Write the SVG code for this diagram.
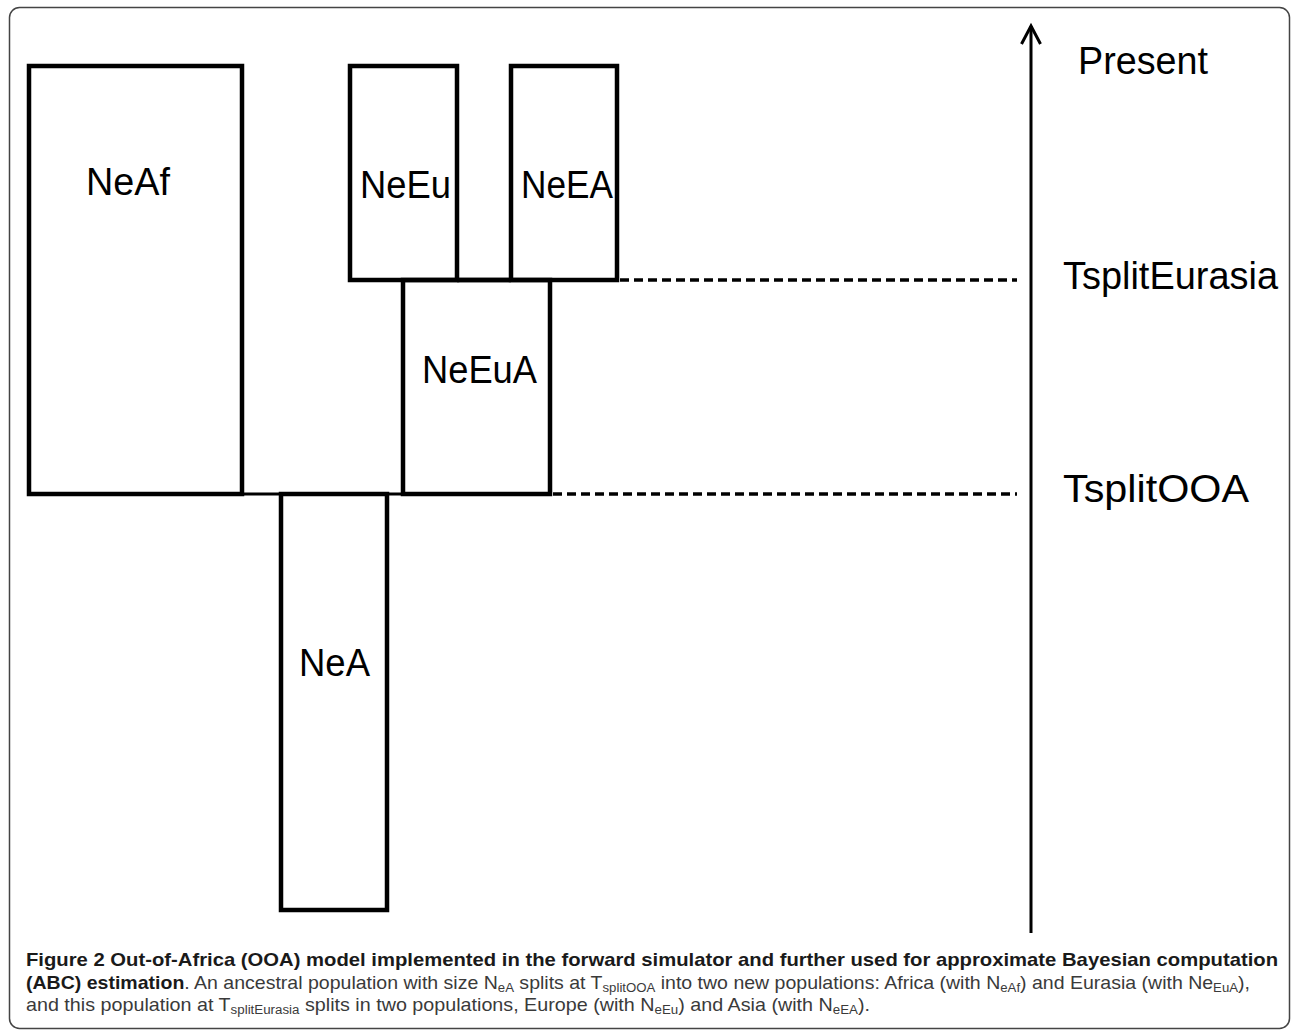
<svg xmlns="http://www.w3.org/2000/svg" width="1293" height="1032" viewBox="0 0 1293 1032">
<style>
.box{fill:none;stroke:#000;stroke-width:4.5;stroke-linejoin:miter}
.lbl{font-family:"Liberation Sans",Arial,sans-serif;font-size:38px;fill:#000}
.dash{fill:none;stroke:#000;stroke-width:3.5;stroke-dasharray:9 5}
.ax{fill:none;stroke:#000;stroke-width:3}
.cap{font-family:"Liberation Sans",Arial,sans-serif;font-size:18.5px;fill:#3a3a3a}
.b{font-weight:bold;fill:#1a1a1a}
.s{font-size:12.5px}
</style>
<rect x="9.5" y="7.5" width="1280" height="1021" rx="10" fill="#fff" stroke="#444" stroke-width="1.5"/>
<g id="connectors">
<line x1="242" y1="494" x2="403" y2="494" stroke="#000" stroke-width="3"/>
<line x1="457" y1="280" x2="511" y2="280" stroke="#000" stroke-width="4.5"/>
<line class="dash" x1="620" y1="280" x2="1017" y2="280"/>
<line class="dash" x1="553" y1="494" x2="1017" y2="494"/>
<line class="ax" x1="1031" y1="26" x2="1031" y2="933"/>
<polyline class="ax" points="1021.5,44 1031,26 1040.5,44"/>
</g>
<g id="NeAf"><rect class="box" x="29" y="66" width="213" height="428"/><text class="lbl" x="86" y="195" textLength="84" lengthAdjust="spacingAndGlyphs">NeAf</text></g>
<g id="NeEu"><rect class="box" x="350" y="66" width="107" height="214"/><text class="lbl" x="360" y="198" textLength="91" lengthAdjust="spacingAndGlyphs">NeEu</text></g>
<g id="NeEA"><rect class="box" x="511" y="66" width="106" height="214"/><text class="lbl" x="521" y="198" textLength="92" lengthAdjust="spacingAndGlyphs">NeEA</text></g>
<g id="NeEuA"><rect class="box" x="403" y="280" width="147" height="214"/><text class="lbl" x="422" y="383" textLength="115" lengthAdjust="spacingAndGlyphs">NeEuA</text></g>
<g id="NeA"><rect class="box" x="281" y="494" width="106" height="416"/><text class="lbl" x="299" y="676" textLength="71" lengthAdjust="spacingAndGlyphs">NeA</text></g>
<g id="Present"><text class="lbl" x="1078" y="74" textLength="130" lengthAdjust="spacingAndGlyphs">Present</text></g>
<g id="TsplitEurasia"><text class="lbl" x="1063" y="289" textLength="215" lengthAdjust="spacingAndGlyphs">TsplitEurasia</text></g>
<g id="TsplitOOA"><text class="lbl" x="1063" y="502" textLength="186" lengthAdjust="spacingAndGlyphs">TsplitOOA</text></g>
<g id="caption">
<text class="cap b" x="26" y="966" textLength="1252" lengthAdjust="spacingAndGlyphs">Figure 2 Out-of-Africa (OOA) model implemented in the forward simulator and further used for approximate Bayesian computation</text>
<text class="cap" x="26" y="989" textLength="1224" lengthAdjust="spacingAndGlyphs"><tspan class="b">(ABC) estimation</tspan>. An ancestral population with size N<tspan class="s" dy="3">eA</tspan><tspan dy="-3"> splits at T</tspan><tspan class="s" dy="3">splitOOA</tspan><tspan dy="-3"> into two new populations: Africa (with N</tspan><tspan class="s" dy="3">eAf</tspan><tspan dy="-3">) and Eurasia (with Ne</tspan><tspan class="s" dy="3">EuA</tspan><tspan dy="-3">),</tspan></text>
<text class="cap" x="26" y="1011" textLength="844" lengthAdjust="spacingAndGlyphs">and this population at T<tspan class="s" dy="3">splitEurasia</tspan><tspan dy="-3"> splits in two populations, Europe (with N</tspan><tspan class="s" dy="3">eEu</tspan><tspan dy="-3">) and Asia (with N</tspan><tspan class="s" dy="3">eEA</tspan><tspan dy="-3">).</tspan></text>
</g>
</svg>
